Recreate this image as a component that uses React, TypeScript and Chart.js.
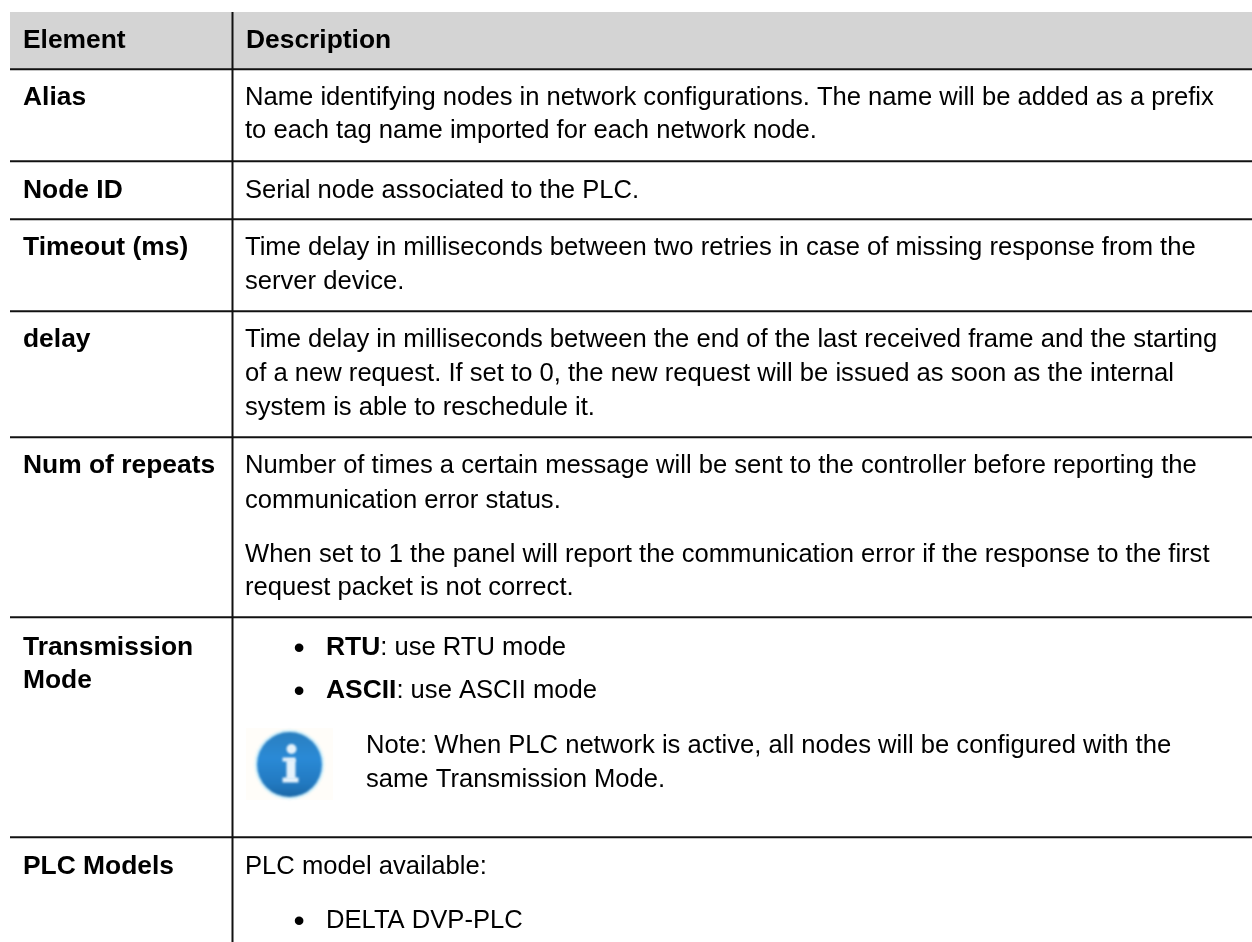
import React, { useEffect, useRef } from "react";
import { Chart, registerables } from "chart.js";

Chart.register(...registerables);

const PAGE_W = 1252;
const PAGE_H = 942;
const FONT = '"Liberation Sans", Arial, sans-serif';
const FONT_SIZE = 25.6;
const BOLD_SIZE = 26.4;

const headerCells = ["Element", "Description"];
const elementLabels: [string, number][] = [
  ["Alias", 105],
  ["Node ID", 198],
  ["Timeout (ms)", 255],
  ["delay", 347],
  ["Num of repeats", 473],
  ["Transmission", 655],
  ["Mode", 688],
  ["PLC Models", 874],
];
const descriptionLines: [string, number][] = [
  ["Name identifying nodes in network configurations. The name will be added as a prefix", 105],
  ["to each tag name imported for each network node.", 138],
  ["Serial node associated to the PLC.", 198],
  ["Time delay in milliseconds between two retries in case of missing response from the", 255],
  ["server device.", 289],
  ["Time delay in milliseconds between the end of the last received frame and the starting", 347],
  ["of a new request. If set to 0, the new request will be issued as soon as the internal", 381],
  ["system is able to reschedule it.", 415],
  ["Number of times a certain message will be sent to the controller before reporting the", 473],
  ["communication error status.", 508],
  ["When set to 1 the panel will report the communication error if the response to the first", 562],
  ["request packet is not correct.", 595],
  ["PLC model available:", 874],
];
const noteLines: [string, number][] = [
  ["Note: When PLC network is active, all nodes will be configured with the", 753],
  ["same Transmission Mode.", 787],
];
const bulletLines: [string, string, number][] = [
  ["RTU", ": use RTU mode", 655],
  ["ASCII", ": use ASCII mode", 698],
  ["", "DELTA DVP-PLC", 928],
];
const rowRules = [69, 161, 219, 311, 437, 617, 837];

export default function App() {
  const ref = useRef<HTMLCanvasElement>(null);
  useEffect(() => {
    const tablePlugin = {
      id: "table",
      beforeDatasetsDraw(chart: any) {
        const { ctx, scales } = chart;
        const X = (v: number) => scales.x.getPixelForValue(v);
        const Y = (v: number) => scales.y.getPixelForValue(v);
        ctx.save();
        ctx.fillStyle = "#d4d4d4";
        ctx.fillRect(X(10), Y(12), X(PAGE_W) - X(10), Y(69) - Y(12));
        ctx.strokeStyle = "#111111";
        ctx.lineWidth = 2;
        rowRules.forEach((r) => {
          ctx.beginPath();
          ctx.moveTo(X(10), Y(r + 0.2));
          ctx.lineTo(X(PAGE_W), Y(r + 0.2));
          ctx.stroke();
        });
        ctx.beginPath();
        ctx.moveTo(X(232.5), Y(12));
        ctx.lineTo(X(232.5), Y(PAGE_H));
        ctx.stroke();
        ctx.restore();
      },
      afterDatasetsDraw(chart: any) {
        const { ctx, scales } = chart;
        const X = (v: number) => scales.x.getPixelForValue(v);
        const Y = (v: number) => scales.y.getPixelForValue(v);
        ctx.save();
        ctx.fillStyle = "#000000";
        ctx.textBaseline = "alphabetic";
        ctx.textAlign = "left";
        const bold = `bold ${BOLD_SIZE}px ${FONT}`;
        const reg = `${FONT_SIZE}px ${FONT}`;
        ctx.font = bold;
        ctx.fillText(headerCells[0], X(23), Y(48));
        ctx.fillText(headerCells[1], X(246), Y(48));
        elementLabels.forEach(([t, y]) => ctx.fillText(t, X(23), Y(y)));
        ctx.font = reg;
        descriptionLines.forEach(([t, y]) => ctx.fillText(t, X(245), Y(y)));
        noteLines.forEach(([t, y]) => ctx.fillText(t, X(366), Y(y)));
        bulletLines.forEach(([b, t, y]) => {
          ctx.font = `32px ${FONT}`;
          ctx.fillText("•", X(293.4), Y(y + 2.5));
          let x = X(326);
          if (b) {
            ctx.font = bold;
            ctx.fillText(b, x, Y(y));
            x += ctx.measureText(b).width;
          }
          ctx.font = reg;
          ctx.fillText(t, x, Y(y));
        });
        // info icon
        ctx.fillStyle = "#fffdf9";
        ctx.fillRect(X(246), Y(728), X(333) - X(246), Y(800) - Y(728));
        const cx = X(289.5), cy = Y(764.5);
        ctx.filter = "blur(1.2px)";
        ctx.fillStyle = "#d4f1fb";
        ctx.beginPath();
        ctx.arc(cx, cy, 35, 0, Math.PI * 2);
        ctx.fill();
        const g = ctx.createLinearGradient(cx, cy - 32, cx, cy + 32);
        g.addColorStop(0, "#2a7fc0");
        g.addColorStop(0.4, "#2a8ad6");
        g.addColorStop(0.8, "#2279c0");
        g.addColorStop(1, "#1a69a8");
        ctx.fillStyle = g;
        ctx.beginPath();
        ctx.arc(cx, cy, 32.5, 0, Math.PI * 2);
        ctx.fill();
        ctx.fillStyle = "#e6f2fb";
        ctx.beginPath();
        ctx.arc(cx + 2, cy - 15.5, 5, 0, Math.PI * 2);
        ctx.fill();
        ctx.fillRect(cx - 7, cy - 7, 13, 4);
        ctx.fillRect(cx - 3, cy - 5, 9, 20);
        ctx.fillRect(cx - 7, cy + 13, 16, 5);
        ctx.restore();
      },
    };
    const chart = new Chart(ref.current!, {
      type: "scatter",
      data: { datasets: [{ data: [] }] },
      options: {
        animation: false,
        responsive: false,
        layout: { padding: 0 },
        plugins: { legend: { display: false }, tooltip: { enabled: false } },
        scales: {
          x: { type: "linear", min: 0, max: PAGE_W, display: false },
          y: { type: "linear", min: 0, max: PAGE_H, reverse: true, display: false },
        },
      },
      plugins: [tablePlugin],
    });
    return () => chart.destroy();
  }, []);
  return (
    <canvas
      ref={ref}
      width={PAGE_W}
      height={PAGE_H}
      style={{ position: "fixed", left: 0, top: 0, width: PAGE_W, height: PAGE_H, display: "block", background: "#fff" }}
    />
  );
}
